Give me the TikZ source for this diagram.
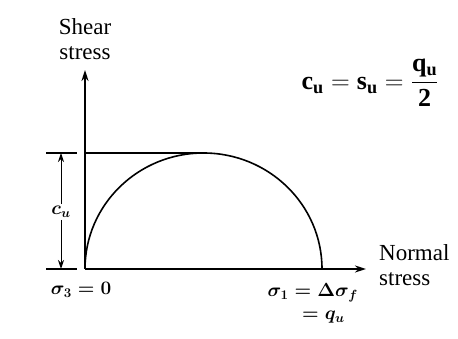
\RequirePackage{fix-cm}
\documentclass[tikz,border=0pt]{standalone}
\usepackage{fontspec}
\setmainfont{Liberation Serif}
\usetikzlibrary{arrows.meta}
\begin{document}
\begin{tikzpicture}[x=1pt,y=1pt,
  axis/.style={line width=2pt,-{Stealth[length=11pt,width=7pt]}},
  thin line/.style={line width=1.3pt},
  label text/.style={font=\fontsize{23}{25}\selectfont,align=center,inner sep=0pt},
  mathlabel/.style={font=\fontsize{19}{22}\selectfont\boldmath,inner sep=0pt}]
\useasboundingbox (0,0) rectangle (458,339);
\fill[white] (0,0) rectangle (458,339);
% key points
\coordinate (O) at (85,70);
\coordinate (ytip) at (85,269);
\coordinate (xtip) at (366,70);
\coordinate (top) at (203.5,186);
\coordinate (lvl) at (85,186);
\coordinate (t1a) at (46,186);
\coordinate (t1b) at (77,186);
\coordinate (t2a) at (46,70);
\coordinate (t2b) at (77,70);
% axes
\draw[axis] (O) -- (ytip);
\draw[axis] (O) -- (xtip);
% Mohr circle
\draw[line width=1.6pt] (O) arc[start angle=180,end angle=0,x radius=118.5,y radius=116];
% top level line
\draw[thin line] (lvl) -- (top);
% ticks
\draw[line width=1.8pt] (t1a) -- (t1b);
\draw[line width=1.8pt] (t2a) -- (t2b);
% dimension
\node[mathlabel,fill=white,inner sep=2pt] (cu) at (61,127) {$c_u$};
\coordinate (d1) at (61,186);
\coordinate (d2) at (61,70);
\draw[line width=1pt,-{Stealth[length=9pt,width=6pt]}] (cu) -- (d1);
\draw[line width=1pt,-{Stealth[length=9pt,width=6pt]}] (cu) -- (d2);
% labels
\node[label text] (shear) at (85,300) {Shear\\stress};
\node[label text,align=left,anchor=west] (normal) at (379,74) {Normal\\stress};
\node[mathlabel] (s3) at (81,49) {$\sigma_3 = 0$};
\node[mathlabel,anchor=east] (s1) at (358,46) {$\sigma_1 = \Delta\sigma_f$};
\node[mathlabel,anchor=west] (qu) at (302,22) {$= q_u$};
\node[font=\fontsize{26}{30}\selectfont,inner sep=0pt] (formula) at (370,256)
  {$\mathbf{c}_{\mathbf{u}} = \mathbf{s}_{\mathbf{u}} = \displaystyle\frac{\mathbf{q}_{\mathbf{u}}}{\mathbf{2}}$};
\end{tikzpicture}
\end{document}
